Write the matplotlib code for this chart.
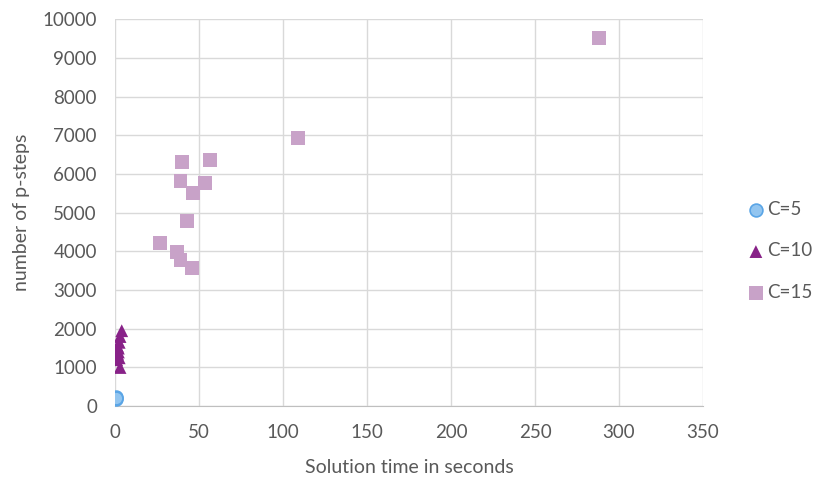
import matplotlib
matplotlib.use("Agg")
import matplotlib.pyplot as plt

plt.rcParams['font.family'] = ['Lato', 'DejaVu Sans']

# C=5 runs
c5_time = [0.5, 0.3, 0.6]
c5_steps = [250, 180, 210]

# C=10 runs
c10_time = [4, 3, 2.5, 2, 1.5, 1, 3, 2, 1.5, 2.5]
c10_steps = [1950, 1800, 1650, 1500, 1350, 1200, 1000, 1400, 1550, 1250]

# C=15 runs
c15_time = [288, 109, 40, 56.5, 39, 53.5, 46.5, 43, 27, 37, 39, 46]
c15_steps = [9520, 6925, 6300, 6355, 5810, 5760, 5500, 4780, 4210, 3990, 3770, 3565]

fig = plt.figure(figsize=(8.18, 4.79), dpi=100)
ax = fig.add_axes([0.1406, 0.152, 0.7188, 0.808])

ax.scatter(c5_time, c5_steps, marker='o', s=85, color='#92c5f0',
           edgecolors='#5aa5e6', linewidths=1.2, label='C=5', zorder=3)
ax.scatter(c10_time, c10_steps, marker='^', s=85, color='#882288',
           edgecolors='none', label='C=10', zorder=3)
ax.scatter(c15_time, c15_steps, marker='s', s=100, color='#c8a2c8',
           edgecolors='none', label='C=15', zorder=3)

ax.set_xlim(0, 350)
ax.set_ylim(0, 10000)
ax.set_xticks(range(0, 351, 50))
ax.set_yticks(range(0, 10001, 1000))
ax.grid(True, color='#d9d9d9', linewidth=1)
ax.set_axisbelow(True)
for s in ['top', 'right', 'left']:
    ax.spines[s].set_visible(False)
ax.spines['bottom'].set_color('#bfbfbf')
ax.tick_params(axis='x', length=0, labelsize=13.5, colors='#595959', pad=13)
ax.tick_params(axis='y', length=0, labelsize=13.5, colors='#595959', pad=13)

ax.set_xlabel('Solution time in seconds', fontsize=14, color='#595959', labelpad=13)
ax.set_ylabel('number of p-steps', fontsize=14, color='#595959', labelpad=9)

leg = fig.legend(loc='center left', bbox_to_anchor=(0.9, 0.476), frameon=False,
                 fontsize=13.5, labelspacing=1.3, handletextpad=0.05,
                 handlelength=1.1, borderpad=0)
for t in leg.get_texts():
    t.set_color('#595959')

fig.savefig('out.png', dpi=100)
